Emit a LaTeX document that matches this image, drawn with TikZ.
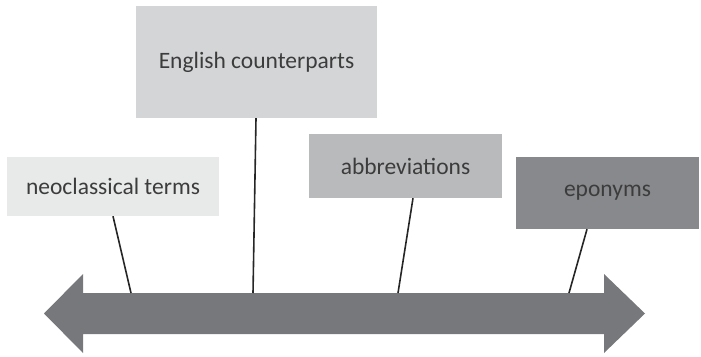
\documentclass[tikz,border=0pt]{standalone}
\usepackage{fontspec}
\setmainfont{Carlito}
\usepackage{tikz}
\definecolor{tone1}{HTML}{E8E9E9}
\definecolor{tone2}{HTML}{D4D5D7}
\definecolor{tone3}{HTML}{B9BABC}
\definecolor{tone4}{HTML}{88898C}
\definecolor{shaft}{HTML}{77787B}
\definecolor{ink}{HTML}{3C3C3C}
\tikzset{
    tbox/.style={inner sep=0pt, text=ink, font=\fontsize{23.5}{27}\selectfont}, % 定义文本框的样式
    tick/.style={line width=1.6pt, color=black!85} % 定义连线的样式
}

\begin{document}
\begin{tikzpicture}[x=1pt, y=-1pt]
            \useasboundingbox (0,0) rectangle (701,356);
            \def\ytop{293} \def\ybot{334} \def\yhtop{274} \def\yhbot{353} \def\ymid{313.5}

            \fill[shaft] (44,\ymid) -- (83,\yhtop) -- (83,\ytop) -- (604,\ytop) -- (604,\yhtop) -- (645,\ymid)
                -- (604,\yhbot) -- (604,\ybot) -- (83,\ybot) -- (83,\yhbot) -- cycle;
            \coordinate (t1) at (131,\ytop); \coordinate (t2) at (253,\ytop);
            \coordinate (t3) at (398,\ytop); \coordinate (t4) at (569,\ytop);

            \node[tbox, fill=tone1, minimum width=212pt, minimum height=59pt] (neo) at (113,186.5) {neoclassical terms};
            \node[tbox, fill=tone2, minimum width=241pt, minimum height=112pt] (eng) at (256.5,62) {English counterparts};
            \node[tbox, fill=tone3, minimum width=193pt, minimum height=64pt] (abb) at (405.5,166) {abbreviations};
            \node[tbox, fill=tone4, minimum width=183pt, minimum height=72pt] (epo) at (607.5,193) {eponyms};

            \draw[tick] (neo.south) -- (t1);
            \draw[tick] ([xshift=-0.5pt]eng.south) -- (t2);
            \draw[tick] ([xshift=7.5pt]abb.south) -- (t3);
            \draw[tick] ([xshift=-20.5pt]epo.south) -- (t4);
        \end{tikzpicture}
\end{document}
